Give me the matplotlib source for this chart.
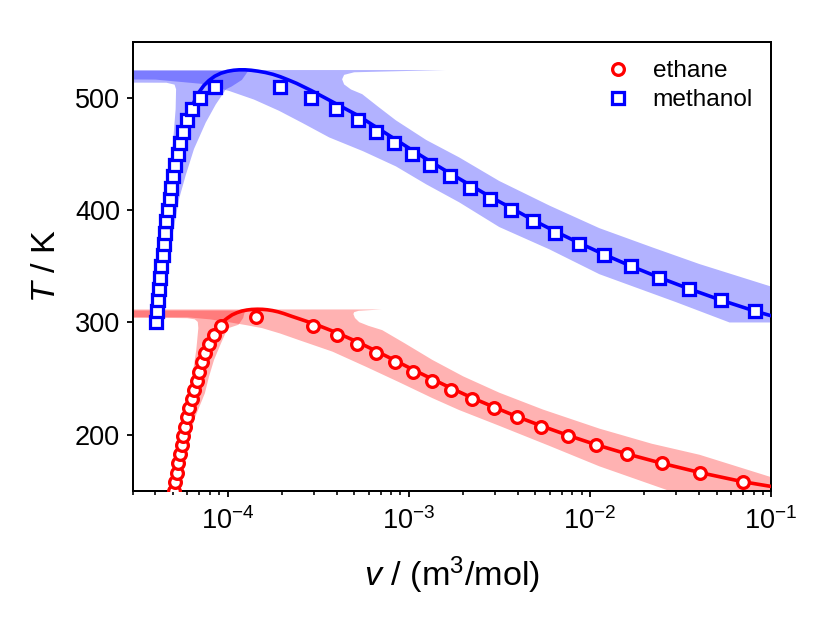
import numpy as np
import matplotlib
matplotlib.use("Agg")
import matplotlib.pyplot as plt

plt.rcParams['font.family'] = ['Liberation Sans', 'DejaVu Sans']
plt.rcParams['mathtext.fontset'] = 'custom'
plt.rcParams['mathtext.rm'] = 'Liberation Sans'
plt.rcParams['mathtext.it'] = 'Liberation Sans:italic'

# --- ethane: experimental points (T in K, v in m3/mol)
eth_T = [150.0, 158.2, 166.3, 174.5, 182.7, 190.9, 199.0, 207.2, 215.4, 223.6,
         231.7, 239.9, 248.1, 256.3, 264.4, 272.6, 280.8, 289.0, 297.1, 305.3]
eth_v_liq = [5.06e-5, 5.15e-5, 5.25e-5, 5.35e-5, 5.46e-5, 5.58e-5, 5.71e-5, 5.84e-5,
             5.99e-5, 6.16e-5, 6.33e-5, 6.55e-5, 6.77e-5, 6.98e-5, 7.25e-5, 7.55e-5,
             7.90e-5, 8.40e-5, 9.25e-5]
eth_v_vap = [0.128, 6.98e-2, 4.06e-2, 2.50e-2, 1.607e-2, 1.079e-2, 7.53e-3, 5.38e-3,
             3.94e-3, 2.95e-3, 2.23e-3, 1.72e-3, 1.345e-3, 1.056e-3, 8.37e-4, 6.60e-4,
             5.21e-4, 4.02e-4, 2.96e-4, 1.44e-4]

# --- methanol: experimental points
meoh_T = [300, 310, 320, 330, 340, 350, 360, 370, 380, 390, 400,
          410, 420, 430, 440, 450, 460, 470, 480, 490, 500, 510]
meoh_v_liq = [4.03e-5, 4.06e-5, 4.11e-5, 4.18e-5, 4.24e-5, 4.31e-5, 4.38e-5, 4.44e-5,
              4.52e-5, 4.59e-5, 4.67e-5, 4.79e-5, 4.89e-5, 5.00e-5, 5.13e-5, 5.31e-5,
              5.46e-5, 5.68e-5, 5.97e-5, 6.34e-5, 7.02e-5, 8.50e-5]
meoh_v_vap = [0.128, 8.19e-2, 5.27e-2, 3.51e-2, 2.40e-2, 1.68e-2, 1.20e-2, 8.73e-3,
              6.43e-3, 4.83e-3, 3.69e-3, 2.80e-3, 2.17e-3, 1.684e-3, 1.319e-3, 1.041e-3,
              8.26e-4, 6.57e-4, 5.23e-4, 3.99e-4, 2.90e-4, 1.94e-4]

# --- model curves (liquid -> critical -> vapour)
eth_line_v = [5.10e-5, 5.30e-5, 5.56e-5, 5.88e-5, 6.30e-5, 6.83e-5, 7.30e-5, 7.85e-5,
              8.50e-5, 9.30e-5, 1.00e-4, 1.06e-4, 1.13e-4, 1.20e-4, 1.28e-4, 1.36e-4,
              1.46e-4, 1.56e-4, 1.66e-4, 1.77e-4, 1.90e-4, 2.05e-4, 2.25e-4, 2.45e-4,
              2.69e-4, 3.15e-4, 3.78e-4, 4.45e-4, 5.21e-4, 6.60e-4, 8.37e-4, 1.056e-3,
              1.345e-3, 1.72e-3, 2.23e-3, 2.95e-3, 3.94e-3, 5.38e-3, 7.53e-3, 1.079e-2,
              1.607e-2, 2.50e-2, 4.06e-2, 6.98e-2, 0.1, 0.13]
eth_line_T = [150, 170, 190, 210, 230, 250, 265, 280,
              290, 300.0, 304.0, 306.8, 308.8, 310.2, 311.1, 311.6,
              311.8, 311.7, 311.3, 310.6, 309.5, 307.9, 305.6, 303.6,
              301.4, 297.5, 292.5, 287.6, 282.7, 274.6, 266.3, 258.0,
              249.7, 241.4, 233.0, 224.7, 216.3, 208.0, 199.6, 191.2,
              182.9, 174.6, 166.3, 158.2, 154.0, 150.0]

meoh_line_v = [4.03e-5, 4.31e-5, 4.67e-5, 5.00e-5, 5.30e-5, 5.65e-5, 5.95e-5, 6.25e-5,
               6.60e-5, 6.95e-5, 7.40e-5, 7.90e-5, 8.50e-5, 9.20e-5, 1.00e-4, 1.08e-4,
               1.16e-4, 1.25e-4, 1.35e-4, 1.47e-4, 1.62e-4, 1.78e-4, 1.95e-4, 2.15e-4,
               2.40e-4, 2.90e-4, 3.40e-4, 3.99e-4, 5.23e-4, 6.57e-4, 8.26e-4,
               1.041e-3, 1.319e-3, 1.684e-3, 2.17e-3, 2.80e-3, 3.69e-3, 4.83e-3, 6.43e-3,
               8.73e-3, 1.20e-2, 1.68e-2, 2.40e-2, 3.51e-2, 5.27e-2, 8.19e-2, 0.1, 0.13]
meoh_line_T = [300, 350, 400, 430, 450, 470, 480, 489,
               498, 505, 511, 515.5, 519.3, 522.0, 523.7, 524.6,
               525.0, 525.0, 524.6, 523.8, 522.6, 521.0, 518.9, 516.2,
               513.0, 506.5, 500.6, 494.6, 484.4, 474.2, 464.0,
               453.6, 443.3, 433.0, 422.6, 412.2, 401.8, 391.4, 381.1,
               370.8, 360.5, 350.3, 340.2, 330.1, 320.0, 310.0, 306.0, 300.0]

# --- uncertainty bands, outlines as (v, T)
eth_vap_band_v = [1e-5, 7.1e-4, 5.3e-4, 5.0e-4, 4.95e-4, 5.05e-4, 5.33e-4, 6.0e-4,
                  7.14e-4, 9.5e-4, 1.353e-3, 2.0e-3, 3.16e-3, 5.5e-3, 1.128e-2, 2.2e-2,
                  4.03e-2, 9.82e-2, 0.25,
                  2.75e-2, 1.128e-2, 6.0e-3, 3.16e-3, 1.9e-3, 1.353e-3, 8.8e-4, 5.8e-4,
                  3.8e-4, 2.48e-4, 1.95e-4, 1.55e-4, 1.25e-4, 1.02e-4, 8.0e-5, 6.0e-5,
                  1e-5]
eth_vap_band_T = [311.6, 311.6, 310.4, 309.2, 307.5, 304.0, 300.3, 297.0,
                  293.2, 281.5, 266.6, 252.0, 237.5, 222.5, 205.5, 192.0,
                  182.2, 162.7, 150.0,
                  150.0, 171.9, 190.0, 208.0, 222.0, 232.6, 247.0, 260.6,
                  274.0, 284.3, 290.2, 295.0, 297.8, 300.2, 302.8, 304.6,
                  305.2]
eth_liq_band_v = [1e-5, 1.25e-4, 1.22e-4, 1.15e-4, 1.0e-4, 9.2e-5, 8.42e-5, 7.9e-5,
                  7.5e-5, 6.6e-5, 6.0e-5, 5.4e-5, 5.2e-5,
                  4.9e-5, 5.3e-5, 5.61e-5, 5.99e-5, 6.26e-5, 6.47e-5, 6.72e-5,
                  6.9e-5, 6.85e-5, 6.6e-5, 6.0e-5, 5.0e-5, 1e-5]
eth_liq_band_T = [310.6, 310.6, 304.0, 298.0, 294.7, 281.4, 266.6, 251.7,
                  237.0, 215.0, 190.0, 165.0, 150.0,
                  150.0, 180.0, 200.0, 231.1, 242.9, 257.7, 275.4,
                  295.0, 300.5, 302.8, 303.8, 304.0, 304.1]

meoh_vap_band_v = [1e-5, 1.6e-3, 5.0e-4, 4.4e-4, 4.29e-4, 4.4e-4, 4.8e-4, 5.54e-4,
                   6.8e-4, 8.5e-4, 1.25e-3, 1.9e-3, 3.16e-3, 6.0e-3, 1.128e-2, 2.2e-2,
                   4.03e-2, 0.1, 0.3,
                   0.3, 5.9e-2, 3.0e-2, 1.128e-2, 6.0e-3, 3.16e-3, 1.9e-3, 1.25e-3,
                   8.5e-4, 5.6e-4, 3.64e-4, 2.6e-4, 1.925e-4, 1.4e-4, 1.02e-4, 7.2e-5,
                   4.0e-5, 1e-5]
meoh_vap_band_T = [524.8, 524.8, 522.8, 520.5, 516.6, 512.0, 507.5, 503.3,
                   492.0, 480.0, 462.5, 447.0, 426.0, 404.0, 384.0, 367.0,
                   352.0, 332.0, 305.0,
                   300.0, 300.0, 318.0, 343.0, 365.0, 385.0, 407.0, 423.0,
                   439.0, 452.5, 464.8, 477.5, 488.5, 498.5, 506.2, 512.5,
                   516.3, 516.9]
meoh_liq_band_v = [1e-5, 1.3e-4, 1.2e-4, 1.05e-4, 9.8e-5, 8.6e-5, 7.58e-5, 6.53e-5,
                   5.87e-5, 5.4e-5, 5.0e-5, 4.6e-5, 4.15e-5,
                   3.95e-5, 4.2e-5, 4.5e-5, 4.65e-5, 4.79e-5, 5.0e-5, 5.17e-5,
                   5.2e-5, 5.1e-5, 4.6e-5, 1e-5]
meoh_liq_band_T = [524.0, 524.0, 516.0, 510.0, 507.7, 494.0, 478.0, 454.5,
                   430.8, 410.0, 380.0, 350.0, 300.0,
                   300.0, 350.0, 400.0, 413.0, 430.8, 460.3, 490.0,
                   507.7, 511.8, 513.5, 513.8]

fig = plt.figure(figsize=(830 / 130, 623 / 130), dpi=130)
ax = fig.add_axes([0.160, 0.212, 0.769, 0.721])
ax.set_xscale('log')

# bands
ax.fill(eth_vap_band_v, eth_vap_band_T, color='red', alpha=0.3, lw=0)
ax.fill(eth_liq_band_v, eth_liq_band_T, color='red', alpha=0.3, lw=0)
ax.fill(meoh_vap_band_v, meoh_vap_band_T, color='blue', alpha=0.3, lw=0)
ax.fill(meoh_liq_band_v, meoh_liq_band_T, color='blue', alpha=0.3, lw=0)

# model lines
ax.plot(eth_line_v, eth_line_T, color='red', lw=2.0, zorder=3)
ax.plot(meoh_line_v, meoh_line_T, color='blue', lw=2.0, zorder=3)

# experimental points
mk = dict(ls='none', mfc='white', ms=6.5, mew=1.8, zorder=4)
ax.plot(eth_v_liq, eth_T[:-1], marker='o', mec='red', label='ethane', **mk)
ax.plot(eth_v_vap, eth_T, marker='o', mec='red', **mk)
ax.plot(meoh_v_liq, meoh_T, marker='s', mec='blue', label='methanol', **mk)
ax.plot(meoh_v_vap, meoh_T, marker='s', mec='blue', **mk)

ax.set_xlim(3e-5, 0.1)
ax.set_ylim(150, 550)
ax.set_yticks([200, 300, 400, 500])
ax.tick_params(labelsize=15, width=1.0)
ax.tick_params(axis='x', which='major', pad=5.5)
ax.tick_params(which='minor', width=0.9)
for s in ax.spines.values():
    s.set_linewidth(1.1)

ax.set_xlabel(r'$v$ / (m$^3$/mol)', fontsize=19, labelpad=11)
ax.set_ylabel(r'$T$ / K', fontsize=19, labelpad=7)

ax.legend(loc='upper right', frameon=False, fontsize=13.5, handlelength=1.0,
          handletextpad=0.9, labelspacing=0.3, borderaxespad=0.35)

fig.savefig('out.png', dpi=130)
